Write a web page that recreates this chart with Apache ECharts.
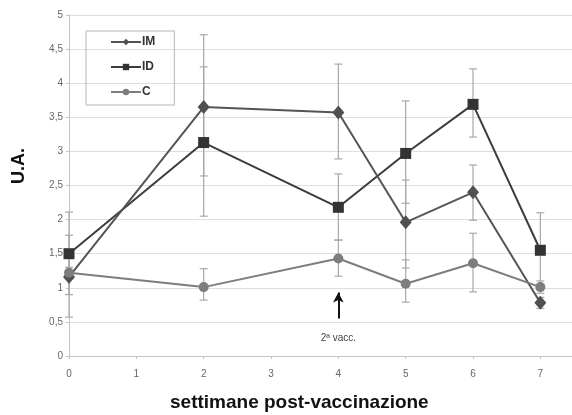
<!DOCTYPE html>
<html>
<head>
<meta charset="utf-8">
<script src="https://cdn.jsdelivr.net/npm/echarts@6/dist/echarts.min.js"></script>
<style>
  html, body { margin: 0; padding: 0; background: #fff; }
  #chart { width: 572px; height: 415px; }
</style>
</head>
<body>
<div id="chart"></div>
<script>
// weeks after vaccination
var weeks = [0, 2, 4, 5, 6, 7];
var xTicks = ['0', '1', '2', '3', '4', '5', '6', '7'];

var imVals = [1.16, 3.65, 3.57, 1.96, 2.40, 0.78];
var imLow  = [0.57, 2.64, 2.89, 1.29, 1.99, 0.70];
var imHigh = [1.77, 4.71, 4.28, 2.58, 2.80, 0.86];

var idVals = [1.50, 3.13, 2.18, 2.97, 3.69, 1.55];
var idLow  = [0.90, 2.05, 1.70, 2.24, 3.21, 1.00];
var idHigh = [2.11, 4.24, 2.67, 3.74, 4.21, 2.10];

var cVals  = [1.22, 1.01, 1.43, 1.06, 1.36, 1.01];
var cLow   = [1.15, 0.82, 1.17, 0.79, 0.94, 0.92];
var cHigh  = [1.30, 1.28, 1.70, 1.41, 1.80, 1.10];

function pts(vals) {
    return weeks.map(function(w, i) { return [w, vals[i]]; });
}
function bars(lo, hi) {
    return weeks.map(function(w, i) { return [w, lo[i], hi[i]]; });
}

function errorBar(params, api) {
    var x = api.value(0);
    var lo = api.coord([x, api.value(1)]);
    var hi = api.coord([x, api.value(2)]);
    var cap = 4;
    var st = { stroke: '#a8a8a8', lineWidth: 1.2 };
    return {
        type: 'group',
        children: [
            { type: 'line', shape: { x1: lo[0], y1: lo[1], x2: hi[0], y2: hi[1] }, style: st },
            { type: 'line', shape: { x1: lo[0] - cap, y1: lo[1], x2: lo[0] + cap, y2: lo[1] }, style: st },
            { type: 'line', shape: { x1: hi[0] - cap, y1: hi[1], x2: hi[0] + cap, y2: hi[1] }, style: st }
        ]
    };
}

function errSeries(lo, hi) {
    return {
        type: 'custom',
        renderItem: errorBar,
        data: bars(lo, hi),
        encode: { x: 0, y: [1, 2] },
        z: 1,
        silent: true
    };
}

var chart = echarts.init(document.getElementById('chart'));
var option = {
    animation: false,
    backgroundColor: '#fff',
    textStyle: { fontFamily: 'Liberation Sans, Arial, sans-serif' },
    grid: { left: 69, right: 0, top: 15, bottom: 59 },
    legend: {
        data: ['IM', 'ID', 'C'],
        orient: 'vertical',
        left: 86,
        top: 31,
        padding: [5, 19, 7, 24],
        itemGap: 13,
        itemWidth: 30,
        itemHeight: 8,
        borderColor: '#b5b5b5',
        borderWidth: 1,
        textStyle: { fontSize: 12, fontWeight: 'bold', color: '#333', padding: [0, 0, 0, -4] }
    },
    xAxis: {
        type: 'value',
        min: 0,
        max: 7.47,
        interval: 1,
        axisLine: { lineStyle: { color: '#c4c4c4' } },
        axisTick: { show: true, length: 3, lineStyle: { color: '#c4c4c4' } },
        axisLabel: {
            color: '#666', fontSize: 10, margin: 13, showMaxLabel: false,
            formatter: function(v) { return v % 1 === 0 ? xTicks[v] : ''; }
        },
        splitLine: { show: false }
    },
    yAxis: {
        type: 'value',
        min: 0,
        max: 5,
        interval: 0.5,
        axisLine: { show: true, lineStyle: { color: '#c4c4c4' } },
        axisTick: { show: true, length: 3, lineStyle: { color: '#c4c4c4' } },
        axisLabel: {
            color: '#666', fontSize: 10, margin: 6,
            formatter: function(v) { return String(v).replace('.', ','); }
        },
        splitLine: { lineStyle: { color: '#dedede', width: 1 } }
    },
    graphic: [
        {
            type: 'text', left: 10, top: 148, rotation: Math.PI / 2,
            style: { text: 'U.A.', font: 'bold 18px Liberation Sans, Arial', fill: '#111' }
        },
        {
            type: 'text', left: 170, top: 393,
            style: { text: 'settimane post-vaccinazione', font: 'bold 19px Liberation Sans, Arial', fill: '#111' }
        }
    ],
    series: [
        errSeries(imLow, imHigh),
        errSeries(idLow, idHigh),
        errSeries(cLow, cHigh),
        {
            name: 'C',
            type: 'line',
            data: pts(cVals),
            symbol: 'circle',
            symbolSize: 10,
            z: 6,
            lineStyle: { color: '#7d7d7d', width: 2 },
            itemStyle: { color: '#7d7d7d' },
            markLine: {
                silent: true,
                symbol: ['none', 'arrow'],
                symbolSize: [8, 10],
                label: { show: false },
                lineStyle: { color: '#111', width: 2, type: 'solid' },
                data: [[{ coord: [4, 0.55] }, { coord: [4, 0.93] }]]
            },
            markPoint: {
                silent: true,
                symbolSize: 0,
                label: { show: true, position: 'inside', formatter: '2ª vacc.', color: '#444', fontSize: 10 },
                data: [{ coord: [4, 0.26] }]
            }
        },
        {
            name: 'ID',
            type: 'line',
            data: pts(idVals),
            symbol: 'rect',
            symbolSize: 11,
            z: 4,
            lineStyle: { color: '#3c3c3c', width: 2 },
            itemStyle: { color: '#333' }
        },
        {
            name: 'IM',
            type: 'line',
            data: pts(imVals),
            symbol: 'diamond',
            symbolSize: [12, 14],
            z: 5,
            lineStyle: { color: '#555', width: 2 },
            itemStyle: { color: '#505050' }
        }
    ]
};
chart.setOption(option);
</script>
</body>
</html>
